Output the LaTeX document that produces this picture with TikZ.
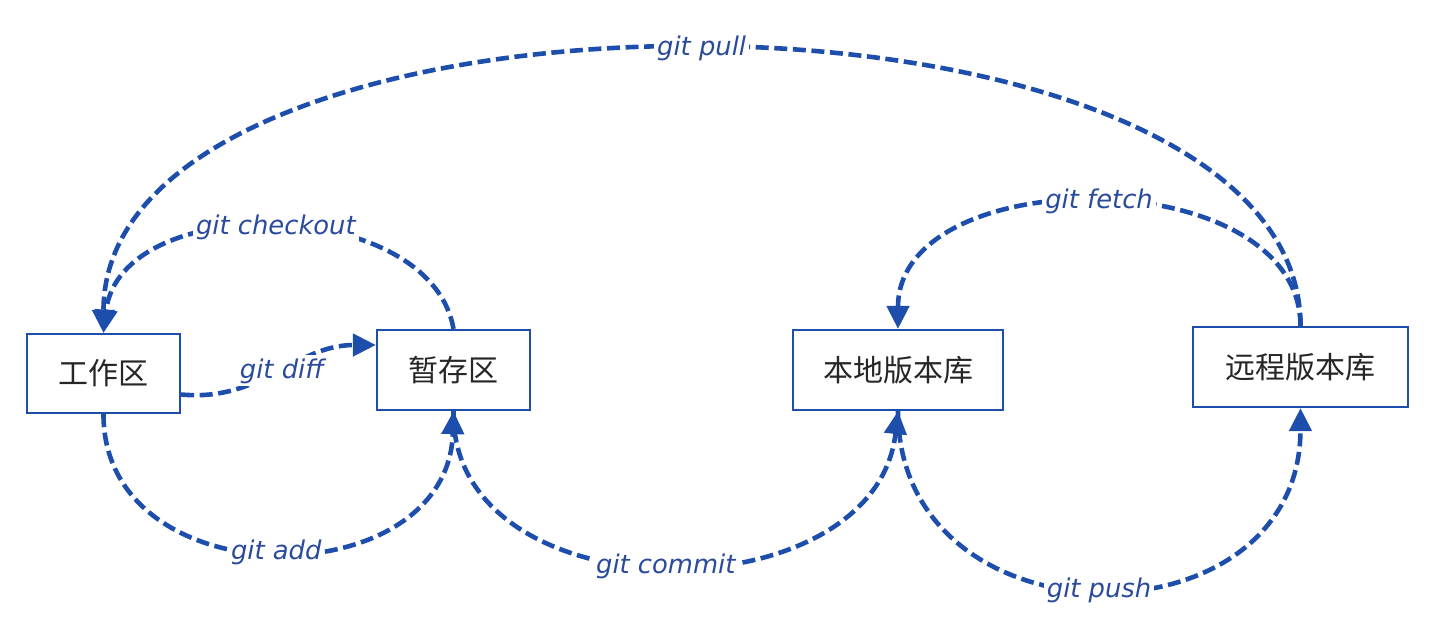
\documentclass[tikz,border=0pt]{standalone}
\usepackage{fontspec}
\newfontfamily\cjk{Noto Sans CJK SC}
\newfontfamily\labfont{DejaVu Sans}
\usetikzlibrary{arrows.meta}
\definecolor{lineblue}{RGB}{30,78,172}
\definecolor{labblue}{RGB}{42,74,156}
\tikzset{
  box/.style={draw=lineblue, line width=1.1pt, fill=white, inner sep=0pt, font=\cjk\fontsize{15}{15}\selectfont, text=black!85},
  flow/.style={draw=lineblue, line width=2.3pt, dash pattern=on 6.5pt off 2.8pt},
  tip/.style={-{Triangle[width=11pt,length=11.5pt]}},
  lab/.style={fill=white, inner sep=1.5pt, text=labblue, font=\labfont\itshape\fontsize{12.9}{12.9}\selectfont}
}
\begin{document}
\begin{tikzpicture}[x=0.5pt,y=-0.5pt]
\useasboundingbox (0,0) rectangle (1438,616);
\node[box, minimum width=76.5pt, minimum height=39.5pt] (w) at (103.5,373.5) {工作区};
\node[box, minimum width=76.5pt, minimum height=40pt] (s) at (453.5,370) {暂存区};
\node[box, minimum width=105pt, minimum height=40pt] (l) at (898,370) {本地版本库};
\node[box, minimum width=107.5pt, minimum height=40pt] (r) at (1300.5,367) {远程版本库};
% git pull
\draw[flow, tip] (r.north) .. controls (1300,-45) and (103,-45) .. node[lab] {git pull} (w.north);
% git checkout
\draw[flow, tip] (s.north) .. controls (430,195) and (120,190) .. node[lab] {git checkout} (w.north);
% git diff
\coordinate (dstart) at ([yshift=-10.5pt]w.east);
\coordinate (dend) at ([yshift=12.5pt]s.west);
\draw[flow, tip] (dstart) .. controls (262,402) and (295,345) .. node[lab, pos=0.52] {git diff} (dend);
% git add
\draw[flow, tip] (w.south) .. controls (103,600) and (448,598) .. node[lab] {git add} (s.south);
% git commit
\draw[flow, tip] (s.south) .. controls (450,618) and (875,618) .. node[lab] {git commit} (l.south);
% git fetch
\draw[flow, tip] (r.north) .. controls (1300,160) and (898,160) .. node[lab] {git fetch} (l.north);
% git push
\draw[flow, tip] (l.south) .. controls (898,650) and (1300,650) .. node[lab] {git push} (r.south);
\end{tikzpicture}
\end{document}
